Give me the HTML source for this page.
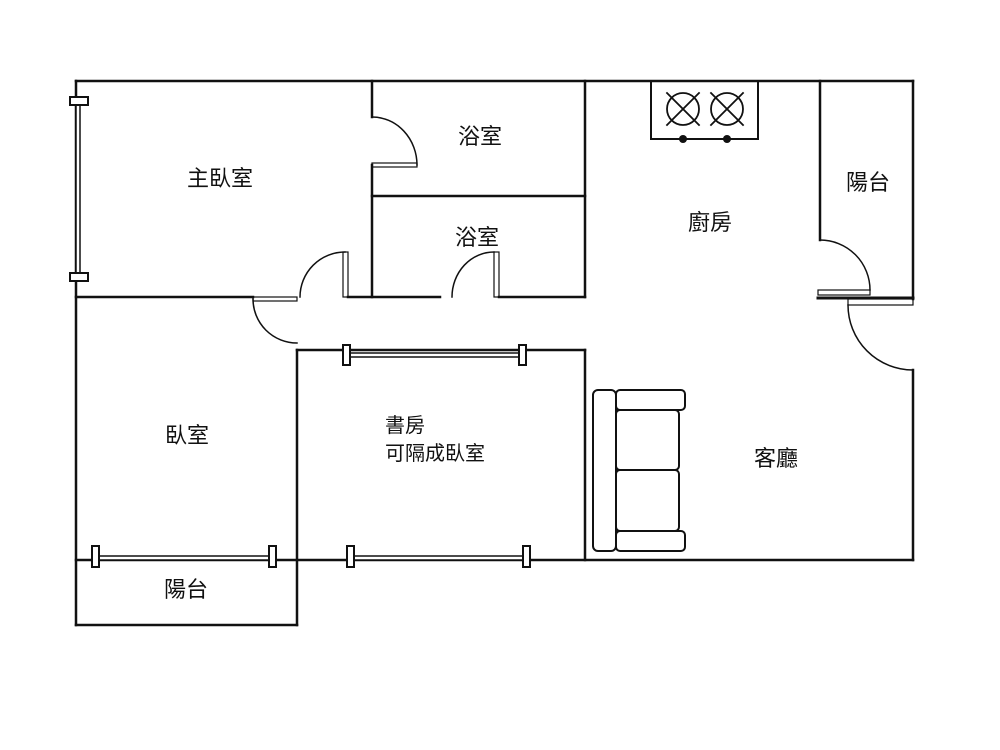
<!DOCTYPE html>
<html><head><meta charset="utf-8"><style>
html,body{margin:0;padding:0;background:#fff;}
svg{display:block}
text{font-family:"Liberation Sans","Noto Sans CJK TC",sans-serif;font-size:22px;fill:#111;}
</style></head><body>
<svg width="1000" height="750" viewBox="0 0 1000 750" xmlns="http://www.w3.org/2000/svg">
<g stroke="#111" stroke-width="2.5" fill="none" stroke-linecap="square">
<!-- outer -->
<line x1="76" y1="81" x2="913" y2="81"/>
<line x1="76" y1="81" x2="76" y2="625"/>
<line x1="76" y1="625" x2="297" y2="625"/>
<line x1="297" y1="350" x2="297" y2="625"/>
<line x1="76" y1="560" x2="913" y2="560"/>
<line x1="913" y1="81" x2="913" y2="299"/>
<line x1="913" y1="370" x2="913" y2="560"/>
<!-- master bedroom -->
<line x1="76" y1="297" x2="253" y2="297"/>
<path d="M253 299 A44 44 0 0 0 297 343" stroke-width="1.5"/>
<rect x="253" y="297" width="44" height="4" stroke-width="1.2"/>
<path d="M345 252 A45 45 0 0 0 300 297" stroke-width="1.5"/>
<rect x="343" y="252" width="5" height="45" stroke-width="1.2"/>
<line x1="348" y1="297" x2="440" y2="297"/>
<!-- baths -->
<line x1="372" y1="81" x2="372" y2="117"/>
<line x1="372" y1="165" x2="372" y2="297"/>
<path d="M372 117 A45 48 0 0 1 417 165" stroke-width="1.5"/>
<rect x="372" y="163" width="45" height="4" stroke-width="1.2"/>
<line x1="372" y1="196" x2="585" y2="196"/>
<path d="M452 297 A42 45 0 0 1 494 252" stroke-width="1.5"/>
<rect x="494" y="252" width="5" height="45" stroke-width="1.2"/>
<line x1="499" y1="297" x2="585" y2="297"/>
<line x1="585" y1="81" x2="585" y2="297"/>
<!-- study -->
<line x1="297" y1="350" x2="585" y2="350"/>
<line x1="585" y1="350" x2="585" y2="560"/>
<!-- kitchen balcony -->
<line x1="820" y1="81" x2="820" y2="240"/>
<path d="M820 240 A50 50 0 0 1 870 290" stroke-width="1.5"/>
<rect x="818" y="290" width="52" height="5" stroke-width="1.2"/>
<line x1="818" y1="298" x2="913" y2="298" stroke-width="3"/>
<rect x="848" y="299" width="65" height="6" stroke-width="1.2"/>
<path d="M848 305 A65 65 0 0 0 913 370" stroke-width="1.5"/>
<!-- stove -->
<rect x="651" y="81" width="107" height="58" stroke-width="2"/>
<circle cx="683" cy="109" r="16" stroke-width="1.8"/>
<circle cx="727" cy="109" r="16" stroke-width="1.8"/>
<path d="M667 93 L699 125 M699 93 L667 125 M711 93 L743 125 M743 93 L711 125" stroke-width="1.8"/>
<!-- sofa -->
<rect x="593" y="390" width="23" height="161" rx="5" stroke-width="2"/>
<rect x="616" y="390" width="69" height="20" rx="4" stroke-width="2"/>
<rect x="616" y="531" width="69" height="20" rx="4" stroke-width="2"/>
<rect x="616" y="410" width="63" height="60" rx="4" stroke-width="2"/>
<rect x="616" y="470" width="63" height="61" rx="4" stroke-width="2"/>
</g>
<g fill="#111"><circle cx="683" cy="139" r="4"/><circle cx="727" cy="139" r="4"/></g>
<!-- windows -->
<g stroke="#111" stroke-width="2" fill="#fff">
<rect x="76" y="100" width="4" height="177" stroke-width="1.5"/>
<rect x="70" y="97" width="18" height="8"/>
<rect x="70" y="273" width="18" height="8"/>
<rect x="346" y="353" width="177" height="4" stroke-width="1.5"/>
<rect x="343" y="345" width="7" height="20"/>
<rect x="519" y="345" width="7" height="20"/>
<rect x="95" y="556" width="178" height="4" stroke-width="1.5"/>
<rect x="92" y="546" width="7" height="21"/>
<rect x="269" y="546" width="7" height="21"/>
<rect x="350" y="556" width="177" height="4" stroke-width="1.5"/>
<rect x="347" y="546" width="7" height="21"/>
<rect x="523" y="546" width="7" height="21"/>
</g>
<text x="220" y="186" text-anchor="middle">主臥室</text>
<text x="480" y="144" text-anchor="middle">浴室</text>
<text x="477" y="245" text-anchor="middle">浴室</text>
<text x="710" y="230" text-anchor="middle">廚房</text>
<text x="868" y="190" text-anchor="middle">陽台</text>
<text x="187" y="443" text-anchor="middle">臥室</text>
<text x="385" y="432" style="font-size:20px">書房</text>
<text x="385" y="460" style="font-size:20px">可隔成臥室</text>
<text x="776" y="466" text-anchor="middle">客廳</text>
<text x="186" y="597" text-anchor="middle">陽台</text>
</svg>
</body></html>
